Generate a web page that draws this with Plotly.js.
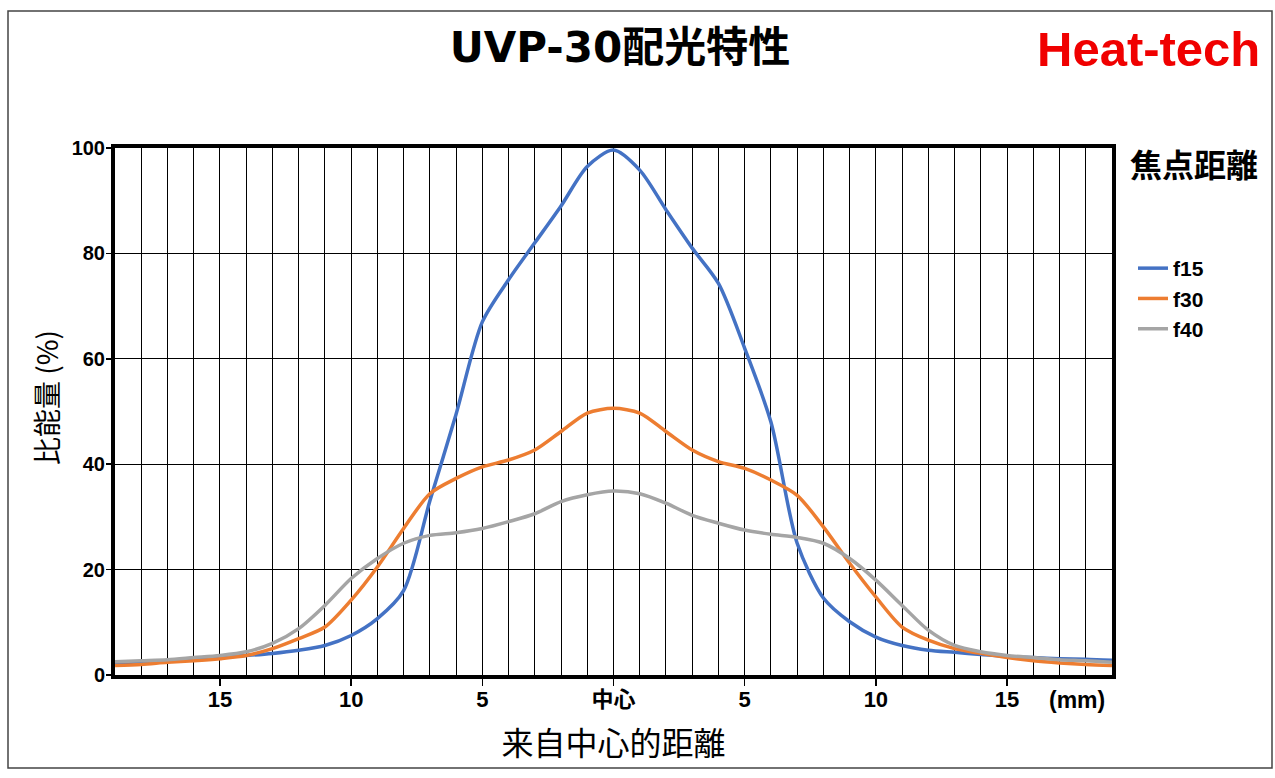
<!DOCTYPE html>
<html>
<head>
<meta charset="utf-8">
<script src="https://cdn.plot.ly/plotly-3.0.1.min.js"></script>
<style>
html,body{margin:0;padding:0;background:#fff;}
#chart{width:1275px;height:778px;}
</style>
</head>
<body>
<div id="chart"></div>
<script>
// Distance from centre (mm)
const distance = [-19,-18,-17,-16,-15,-14,-13,-12,-11,-10,-9,-8,-7,-6,-5,-4,-3,-2,-1,0,1,2,3,4,5,6,7,8,9,10,11,12,13,14,15,16,17,18,19];
// Relative energy (%) per focal distance
const f15 = [2.2,2.5,2.7,3.0,3.4,3.7,4.1,4.7,5.6,7.5,10.7,16,33,49.5,67,75,82,89,96.5,99.6,95.8,88.3,81,74.3,62,48,25,14.6,10.1,7.2,5.6,4.7,4.3,3.9,3.5,3.3,3.1,3.0,2.8];
const f30 = [1.8,2.0,2.4,2.7,3.1,3.7,5.0,6.9,9.1,14.2,20.5,27.8,34.4,37.3,39.5,40.8,42.7,46.2,49.7,50.6,49.7,46.2,42.7,40.5,39.2,37.0,34.1,28.1,21.2,14.8,9.1,6.6,5.0,4.1,3.3,2.7,2.3,2.0,1.8];
const f40 = [2.5,2.7,2.9,3.3,3.7,4.4,6.0,8.8,13.2,18.3,22.1,25.0,26.5,27.0,27.8,29.1,30.6,32.9,34.2,34.9,34.4,32.6,30.3,28.8,27.5,26.7,26.1,25.0,22.1,18.0,13.2,8.5,5.6,4.4,3.7,3.3,2.9,2.7,2.4];
const seriesNames = ['f15','f30','f40'];
const xTickVals = [-15,-10,-5,0,5,10,15];
const xTickText = ['15','10','5','中心','5','10','15'];
const yTickVals = [0,20,40,60,80,100];

const colors = ['#4472C4','#ED7D31','#A5A5A5'];
const series = [f15,f30,f40];
const traces = series.map((ys,i)=>({
  x: distance, y: ys, name: seriesNames[i], type:'scatter', mode:'lines',
  line:{color:colors[i], width:3.5, shape:'spline', smoothing:0.8},
  hoverinfo:'x+y+name'
}));

const W=1275,H=778,L=115,R=1112,T=148,B=675;
const pw=R-L, ph=B-T;
const px = v => (v-L)/pw;
const py = v => (B-v)/ph;

const latin = 'Liberation Sans, Arial, Noto Sans CJK JP, sans-serif';
const cjk = 'Noto Sans CJK JP, Noto Sans CJK SC, sans-serif';

const layout = {
  width:W, height:H,
  margin:{l:L, r:W-R, t:T, b:H-B, pad:0},
  paper_bgcolor:'#fff', plot_bgcolor:'#fff',
  showlegend:true,
  title:{text:'UVP-30配光特性', x:620/W, xref:'container', xanchor:'center',
         y:1-47/H, yref:'container', yanchor:'middle',
         font:{family:'DejaVu Sans, Noto Sans CJK JP, sans-serif', size:42, color:'#000', weight:'bold'}},
  xaxis:{
    range:[-19,19], tickmode:'array', tickvals:xTickVals, ticktext:xTickText,
    ticks:'outside', ticklen:7, tickwidth:1.5, tickcolor:'#000',
    ticklabelstandoff:-5,
    tickfont:{family:latin, size:22, color:'#000', weight:'bold'},
    showgrid:true, gridcolor:'#000', gridwidth:1,
    minor:{tickmode:'linear', tick0:0, dtick:1, showgrid:true, gridcolor:'#000', gridwidth:1, ticks:''},
    showline:true, linecolor:'#000', linewidth:4, mirror:true, zeroline:false,
    title:{text:'来自中心的距離', standoff:22, font:{family:cjk, size:32, color:'#000'}},
    fixedrange:true
  },
  yaxis:{
    range:[0,100], tickmode:'array', tickvals:yTickVals,
    ticks:'outside', ticklen:5, tickwidth:1.5, tickcolor:'#000',
    ticklabelstandoff:-3,
    tickfont:{family:latin, size:20, color:'#000', weight:'bold'},
    showgrid:true, gridcolor:'#000', gridwidth:1,
    showline:true, linecolor:'#000', linewidth:4, mirror:true, zeroline:false,
    fixedrange:true
  },
  legend:{x:px(1133), xanchor:'left', y:py(248), yanchor:'top',
          font:{family:latin, size:21, color:'#000', weight:'bold'},
          bgcolor:'rgba(0,0,0,0)', borderwidth:0, traceorder:'normal'},
  shapes:[{type:'rect', xref:'paper', yref:'paper', x0:px(8), x1:px(1272), y0:py(768), y1:py(11),
           line:{color:'#444', width:1.5}, fillcolor:'rgba(0,0,0,0)', layer:'below'}],
  annotations:[
    {text:'Heat-tech', xref:'paper', yref:'paper', x:px(1148), y:py(49), xanchor:'center', yanchor:'middle',
     showarrow:false, font:{family:'Liberation Sans Narrow, Arial Narrow, Liberation Sans, sans-serif', size:49, color:'#F00000', weight:'bold'}},
    {text:'(mm)', xref:'paper', yref:'paper', x:px(1077), y:py(700), xanchor:'center', yanchor:'middle',
     showarrow:false, font:{family:latin, size:23, color:'#000', weight:'bold'}},
    {text:'比能量 (%)', xref:'paper', yref:'paper', x:px(46), y:py(398), xanchor:'center', yanchor:'middle',
     textangle:-90, showarrow:false, font:{family:cjk, size:28, color:'#000'}},
    {text:'焦点距離', xref:'paper', yref:'paper', x:px(1194), y:py(163), xanchor:'center', yanchor:'middle',
     showarrow:false, font:{family:cjk, size:32, color:'#000', weight:'bold'}}
  ]
};

Plotly.newPlot('chart', traces, layout, {displayModeBar:false, staticPlot:true});
</script>
</body>
</html>
